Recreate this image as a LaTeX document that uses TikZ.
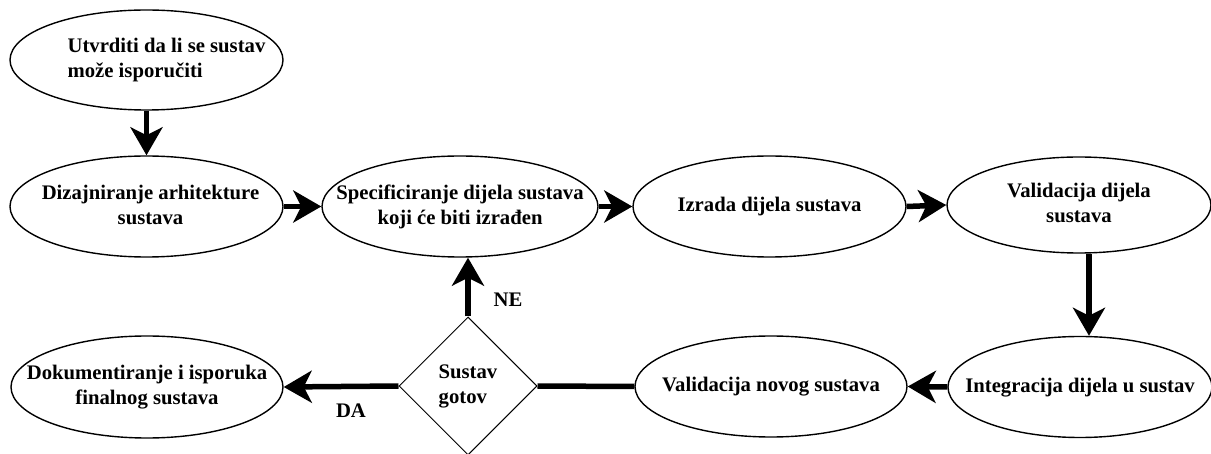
\documentclass[tikz,border=0pt]{standalone}
\usepackage{fontspec}
\setmainfont{Liberation Serif}
\usetikzlibrary{shapes.geometric,arrows.meta}
% zero-size text box so the ellipse keeps its given size
\newcommand\ztxt[3][0pt]{\makebox[0pt]{\hspace*{#1}\raisebox{-5.5pt}[0pt][0pt]{\begin{tabular}{@{}#2@{}}#3\end{tabular}}}}
\tikzset{
  proc/.style={ellipse, draw, line width=1.4pt, inner sep=0pt,
    font=\fontsize{20.7}{25}\selectfont\bfseries},
  decision/.style={diamond, draw, line width=1pt, inner sep=0pt,
    minimum width=138pt, minimum height=138pt,
    font=\fontsize{20.7}{25}\selectfont\bfseries},
  arr/.style={line width=5.5pt, -{Stealth[length=28pt,width=32pt,inset=8pt]}},
  plainline/.style={line width=5.5pt},
  lbl/.style={font=\fontsize{20.7}{25}\selectfont\bfseries, inner sep=0pt}
}
\begin{document}
\begin{tikzpicture}[x=1pt,y=-1pt]
\useasboundingbox[fill=white] (0,0) rectangle (1211,454);
\node[proc, minimum width=273pt, minimum height=100pt] (e1) at (146.5,60)
  {\ztxt[40pt]{l}{Utvrditi da li se sustav\\može isporučiti}};
\node[proc, minimum width=273pt, minimum height=101pt] (e2) at (146.5,206.5)
  {\ztxt[8pt]{c}{Dizajniranje arhitekture\\sustava}};
\node[proc, minimum width=276pt, minimum height=101pt] (e3) at (460,206.5)
  {\ztxt{c}{Specificiranje dijela sustava\\koji će biti izrađen}};
\node[proc, minimum width=273pt, minimum height=101pt] (e4) at (769.5,206.5)
  {\ztxt{c}{Izrada dijela sustava}};
\node[proc, minimum width=264pt, minimum height=96pt] (e5) at (1079,205)
  {\ztxt{c}{Validacija dijela\\sustava}};
\node[proc, minimum width=264pt, minimum height=101pt] (e6) at (1080,387)
  {\ztxt{c}{Integracija dijela u sustav}};
\node[proc, minimum width=272pt, minimum height=101pt] (e7) at (771,386.5)
  {\ztxt{c}{Validacija novog sustava}};
\node[decision] (d) at (468,386) {\ztxt{l}{Sustav\\gotov}};
\node[proc, minimum width=272pt, minimum height=102pt] (e8) at (147,387)
  {\ztxt{c}{Dokumentiranje i isporuka\\finalnog sustava}};

\draw[arr] (e1.south) -- (e2.north);
\draw[arr] (e2.east) -- (e3.west);
\draw[arr] (e3.east) -- (e4.west);
\draw[arr] (e4.east) -- (e5.west);
\draw[arr] ([xshift=10pt]e5.south) -- ([xshift=9pt]e6.north);
\draw[arr] (e6.west) -- (e7.east);
\draw[plainline] (e7.west) -- (d.east);
\draw[arr] (d.north) -- (d.north |- e3.south);
\draw[arr] (d.west) -- (e8.east);

\node[lbl] (ne) at (508,300) {NE};
\node[lbl] (da) at (351,411) {DA};
\end{tikzpicture}
\end{document}
